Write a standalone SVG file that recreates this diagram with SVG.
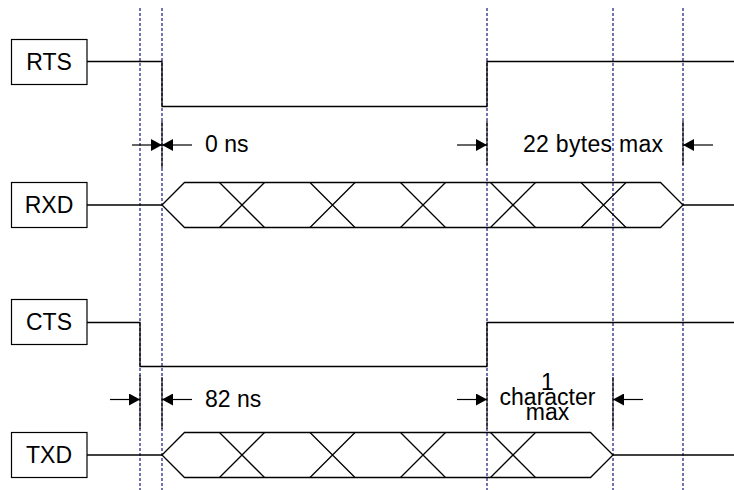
<svg xmlns="http://www.w3.org/2000/svg" width="734" height="490" viewBox="0 0 734 490">
<style>
.box{fill:#fff;stroke:#000;stroke-width:1.2}
.lbl{font-family:"Liberation Sans",Arial,sans-serif;font-size:23px;fill:#000}
.mid{text-anchor:middle}
.sig{fill:none;stroke:#000;stroke-width:1.3;stroke-linejoin:miter}
.guide{fill:none;stroke:#00006e;stroke-width:1.1;stroke-dasharray:3 2}
.ext{fill:none;stroke:#000;stroke-width:1.1}
.dim{fill:none;stroke:#000;stroke-width:1.2;marker-end:url(#ah)}
</style>
<defs>
<marker id="ah" markerUnits="userSpaceOnUse" markerWidth="11" markerHeight="12" refX="11" refY="6" orient="auto">
<path d="M0,0 L11,6 L0,12 Z" fill="#000"/>
</marker>
</defs>
<rect width="734" height="490" fill="#fff"/>

<g id="guides">
<line class="guide" x1="140" y1="8" x2="140" y2="490"/>
<line class="guide" x1="162" y1="8" x2="162" y2="490"/>
<line class="guide" x1="487" y1="8" x2="487" y2="490"/>
<line class="guide" x1="613" y1="8" x2="613" y2="490"/>
<line class="guide" x1="683" y1="8" x2="683" y2="490"/>
</g>

<g id="RTS">
<rect class="box" x="11.5" y="39.5" width="75.5" height="45"/>
<text class="lbl mid" x="49" y="70">RTS</text>
</g>
<g id="RXD">
<rect class="box" x="11.5" y="182.5" width="75.5" height="45"/>
<text class="lbl mid" x="49" y="213">RXD</text>
</g>
<g id="CTS">
<rect class="box" x="11.5" y="299.5" width="75.5" height="45"/>
<text class="lbl mid" x="49" y="330">CTS</text>
</g>
<g id="TXD">
<rect class="box" x="11.5" y="432.5" width="75.5" height="45"/>
<text class="lbl mid" x="49" y="463">TXD</text>
</g>

<g id="connectors">
<polyline class="sig" points="87,61.5 162,61.5 162,106.5 487,106.5 487,61.5 734,61.5"/>
<line class="sig" x1="87" y1="205" x2="162" y2="205"/>
<polygon class="sig" points="162,205 184.5,182.5 660.5,182.5 683,205 660.5,227.5 184.5,227.5"/>
<path class="sig" d="M219.5,182.5 L264.5,227.5 M219.5,227.5 L264.5,182.5 M310,182.5 L355,227.5 M310,227.5 L355,182.5 M400.5,182.5 L445.5,227.5 M400.5,227.5 L445.5,182.5 M490.5,182.5 L535.5,227.5 M490.5,227.5 L535.5,182.5 M581,182.5 L626,227.5 M581,227.5 L626,182.5"/>
<line class="sig" x1="683" y1="205" x2="734" y2="205"/>
<polyline class="sig" points="87,322.5 140,322.5 140,366.5 487,366.5 487,322.5 734,322.5"/>
<line class="sig" x1="87" y1="455" x2="162" y2="455"/>
<polygon class="sig" points="162,455 184.5,432.5 590.5,432.5 613,455 590.5,477.5 184.5,477.5"/>
<path class="sig" d="M219.5,432.5 L264.5,477.5 M219.5,477.5 L264.5,432.5 M310,432.5 L355,477.5 M310,477.5 L355,432.5 M400.5,432.5 L445.5,477.5 M400.5,477.5 L445.5,432.5 M490.5,432.5 L535.5,477.5 M490.5,477.5 L535.5,432.5"/>
<line class="sig" x1="613" y1="455" x2="734" y2="455"/>

<line class="ext" x1="162" y1="121" x2="162" y2="168"/>
<line class="ext" x1="487" y1="121" x2="487" y2="165"/>
<line class="ext" x1="683" y1="121" x2="683" y2="165"/>
<line class="ext" x1="140" y1="375" x2="140" y2="429"/>
<line class="ext" x1="162" y1="377" x2="162" y2="429"/>
<line class="ext" x1="487" y1="377" x2="487" y2="429"/>
<line class="ext" x1="613" y1="377" x2="613" y2="429"/>

<line class="dim" x1="132" y1="145" x2="162" y2="145"/>
<line class="dim" x1="192" y1="145" x2="162" y2="145"/>
<line class="dim" x1="457" y1="145" x2="487" y2="145"/>
<line class="dim" x1="713" y1="145" x2="683" y2="145"/>
<line class="dim" x1="110" y1="399.5" x2="140" y2="399.5"/>
<line class="dim" x1="192" y1="399.5" x2="162" y2="399.5"/>
<line class="dim" x1="457" y1="399.5" x2="487" y2="399.5"/>
<line class="dim" x1="643" y1="399.5" x2="613" y2="399.5"/>
</g>

<g id="labels">
<text class="lbl" x="205" y="152">0 ns</text>
<text class="lbl mid" x="593" y="152" textLength="140" lengthAdjust="spacing">22 bytes max</text>
<text class="lbl" x="205" y="407">82 ns</text>
<text class="lbl mid" x="547.5" y="390">1</text>
<text class="lbl mid" x="547.5" y="405">character</text>
<text class="lbl mid" x="547.5" y="420">max</text>
</g>
</svg>
